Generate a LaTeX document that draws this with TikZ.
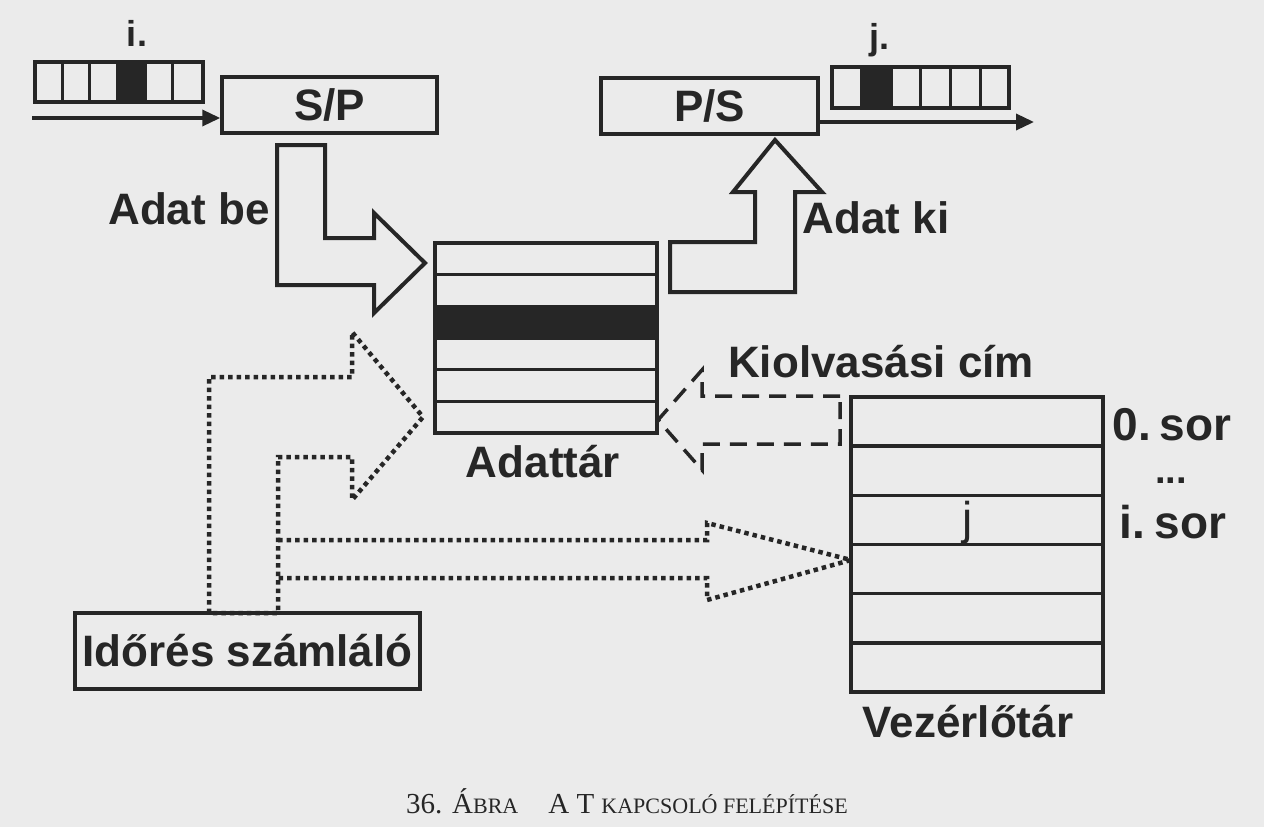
\documentclass[tikz,border=0pt]{standalone}
\usepackage{fontspec}
\setmainfont{Liberation Sans}
\newfontfamily\capfont{Liberation Serif}
\usetikzlibrary{arrows.meta}
\definecolor{ink}{HTML}{262626}
\definecolor{paper}{HTML}{EBEBEB}
\tikzset{
  lbl/.style={text=ink, inner sep=0pt, font=\fontsize{44}{48}\selectfont\bfseries},
  smalllbl/.style={text=ink, inner sep=0pt, font=\fontsize{36}{40}\selectfont\bfseries},
  boxnode/.style={draw=ink, line width=3.5pt, inner sep=0pt},
  cellline/.style={draw=ink, line width=3pt},
  rowline/.style={draw=ink, line width=3.5pt},
  bigarrow/.style={draw=ink, line width=4pt, line join=miter},
  dotarrow/.style={draw=ink, line width=4.5pt, dash pattern=on 4.5pt off 4pt, line join=miter},
  dasharrow/.style={draw=ink, line width=3.5pt, dash pattern=on 17pt off 10pt, line join=miter},
  wire/.style={draw=ink, line width=3.5pt, -{Triangle[length=18pt,width=16pt]}}
}
\begin{document}
\begin{tikzpicture}[x=1pt,y=-1pt]
\fill[paper] (0,0) rectangle (1264,827);
\useasboundingbox (0,0) rectangle (1264,827);

% input register i.
\node[boxnode, minimum width=168pt, minimum height=40pt] (inreg) at (119,82) {};
\fill[ink] (117,62) rectangle (145,102);
\foreach \xx in {62.8,89.8,117,145,172.5} { \draw[cellline] (\xx,62) -- (\xx,102); }
\node[smalllbl] (ilbl) at (137,33) {i.};

% S/P and P/S
\node[boxnode, minimum width=215pt, minimum height=56pt, lbl] (sp) at (329.5,105) {S/P};
\node[boxnode, minimum width=217pt, minimum height=56pt, lbl] (ps) at (709.5,106) {P/S};
\coordinate (inL) at (32,118);
\draw[wire] (inL) -- (inL -| sp.west);

% output register j.
\node[boxnode, minimum width=177pt, minimum height=41pt] (outreg) at (920.5,87.5) {};
\fill[ink] (861.5,67) rectangle (891,108);
\foreach \xx in {861.5,891,920.5,950,980} { \draw[cellline] (\xx,67) -- (\xx,108); }
\node[smalllbl] (jlbl) at (879,40) {j.};
\coordinate (outR) at (1034,122);
\draw[wire] (ps.east |- outR) -- (outR);

% Adattar
\node[boxnode, minimum width=222pt, minimum height=190pt] (adat) at (546,338) {};
\fill[ink] (435,306.3) rectangle (657,338);
\foreach \yy in {274.7,306.3,338,369.7,401.3} { \draw[rowline] (435,\yy) -- (657,\yy); }
\node[lbl] (adatlbl) at (543,462) {Adattár};

% Vezerlotar
\node[boxnode, minimum width=252pt, minimum height=295pt] (vez) at (977,544.5) {};
\foreach \yy in {446.2,495.3,544.5,593.7,642.8} { \draw[rowline] (851,\yy) -- (1103,\yy); }
\node[lbl] (vezlbl) at (968,722) {Vezérlőtár};
\node[text=ink, inner sep=0pt, font=\fontsize{46}{48}\selectfont, anchor=base] (jcell) at (968,534) {j};
\node[lbl, font=\fontsize{46}{48}\selectfont\bfseries, anchor=base] (sor0) at (1172,440) {0.\hspace{9pt}sor};
\node[lbl, font=\fontsize{38}{40}\selectfont\bfseries, anchor=base, text height=6pt, text depth=0pt] (dots) at (1171,483) {...};
\node[lbl, font=\fontsize{46}{48}\selectfont\bfseries, anchor=base] (sori) at (1173,538) {i.\hspace{9pt}sor};

% Idores szamlalo
\node[boxnode, minimum width=345pt, minimum height=76pt, lbl] (idores) at (247.5,651) {Időrés számláló};

% Adat be big arrow
\draw[bigarrow] (277,145) -- (325,145) -- (325,238) -- (374,238) -- (374,213) -- (425,263)
  -- (374,313) -- (374,285) -- (277,285) -- cycle;
\node[lbl] (adatbe) at (189,209) {Adat be};

% Adat ki big arrow
\draw[bigarrow] (670,292) -- (670,242) -- (755,242) -- (755,192) -- (733,192) -- (775,140)
  -- (822,192) -- (795,192) -- (795,292) -- cycle;
\node[lbl] (adatki) at (876,218) {Adat ki};

% Kiolvasasi cim dashed arrow
\draw[dasharrow] (840,396) -- (702,396) -- (702,370) -- (658,420) -- (702,470) -- (702,444) -- (840,444) -- cycle;
\node[lbl] (kiolv) at (881,362) {Kiolvasási cím};

% dotted arrows from Idores szamlalo
\draw[dotarrow] (209,613) -- (209,377) -- (352,377) -- (352,332) -- (423,417) -- (352,500)
  -- (352,457) -- (278,457) -- (278,613) -- cycle;
\draw[dotarrow] (278,540) -- (707,540) -- (707,523) -- (851,560) -- (707,600) -- (707,578) -- (278,578);

% caption
\node[text=ink, inner sep=0pt, font=\capfont\fontsize{29}{32}\selectfont] (caption) at (627,801)
  {36. Á{\fontsize{22}{24}\selectfont BRA}\hspace{30pt}A T {\fontsize{22}{24}\selectfont KAPCSOLÓ FELÉPÍTÉSE}};
\end{tikzpicture}
\end{document}
